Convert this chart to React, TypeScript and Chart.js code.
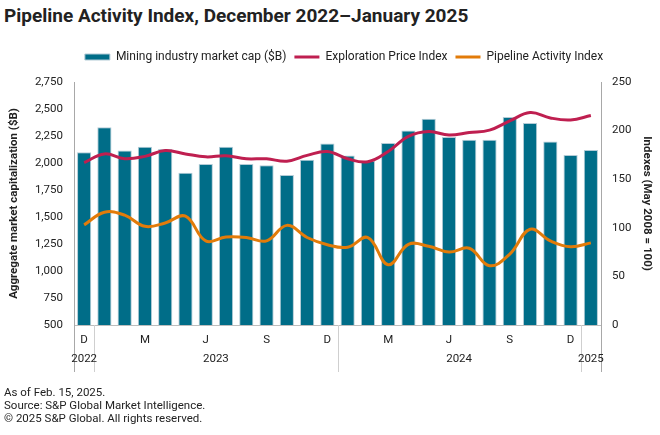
import React, { useEffect, useRef } from 'react';
import { Chart, registerables } from 'chart.js';
Chart.register(...registerables);

const categories = [
  '2022-12', '2023-01', '2023-02', '2023-03', '2023-04', '2023-05', '2023-06', '2023-07', '2023-08', '2023-09', '2023-10', '2023-11', '2023-12',
  '2024-01', '2024-02', '2024-03', '2024-04', '2024-05', '2024-06', '2024-07', '2024-08', '2024-09', '2024-10', '2024-11', '2024-12', '2025-01',
];
const monthTickLabels = ['D', '', '', 'M', '', '', 'J', '', '', 'S', '', '', 'D', '', '', 'M', '', '', 'J', '', '', 'S', '', '', 'D', ''];
const yearLabels = ['2022', '2023', '2024', '2025'];
const yearStartIdx = [0, 1, 13, 25];
const yearEndIdx = [0, 12, 24, 25];

const marketCap = [2100, 2330, 2115, 2150, 2130, 1910, 1990, 2150, 1990, 1980, 1890, 2030, 2180, 2070, 2020, 2185, 2300, 2410, 2240, 2215, 2215, 2425, 2370, 2200, 2075, 2120];
const explorationIndex = [167, 176, 171, 173.5, 179.5, 176, 173, 174, 171, 171, 168.5, 174.5, 178.5, 171, 168, 178.5, 194, 199, 195.5, 198, 200.5, 210, 218.5, 213, 211, 215.5];
const pipelineIndex = [103, 116, 113, 101.5, 105, 112, 86.5, 90.5, 90, 86.5, 102.5, 90, 82.5, 80, 90, 62, 83, 81, 75, 79, 61, 73, 98.5, 86.5, 80.5, 84.5];

const TEAL = '#006d88';
const RED = '#bf1f50';
const ORANGE = '#e27b09';
const TEXT = '#222222';
const FONT = 'Roboto, "Noto Sans", sans-serif';

const extrasPlugin = {
  id: 'extras',
  beforeLayout(chart: any) {
    const lg = chart.legend;
    if (lg && !lg.__wrapped) {
      const orig = lg.fit;
      lg.fit = function () {
        orig.call(this);
        this.height += 9;
      };
      lg.__wrapped = true;
    }
  },
  afterLayout(chart: any) {
    if (chart.legend) {
      chart.legend.left += 14;
      chart.legend.right += 14;
    }
  },
  afterDraw(chart: any) {
    const { ctx, chartArea, scales } = chart;
    const x = scales.x;
    const bottom = chartArea.bottom;
    const ext = bottom + 47;
    ctx.save();
    ctx.lineWidth = 1;
    ctx.strokeStyle = '#a8a8a8';
    ctx.beginPath();
    ctx.moveTo(Math.round(chartArea.left) + 0.5, bottom);
    ctx.lineTo(Math.round(chartArea.left) + 0.5, ext);
    ctx.moveTo(Math.round(chartArea.right) + 0.5, bottom);
    ctx.lineTo(Math.round(chartArea.right) + 0.5, ext);
    ctx.stroke();
    ctx.strokeStyle = '#cfcfcf';
    ctx.beginPath();
    for (let k = 0; k < yearEndIdx.length - 1; k++) {
      const i = yearEndIdx[k];
      const px = Math.round((x.getPixelForValue(i) + x.getPixelForValue(i + 1)) / 2) + 0.5;
      ctx.moveTo(px, bottom);
      ctx.lineTo(px, ext);
    }
    ctx.stroke();
    ctx.fillStyle = TEXT;
    ctx.font = `11.5px ${FONT}`;
    ctx.textAlign = 'center';
    ctx.textBaseline = 'middle';
    yearLabels.forEach((lab, k) => {
      const cx = (x.getPixelForValue(yearStartIdx[k]) + x.getPixelForValue(yearEndIdx[k])) / 2;
      ctx.fillText(lab, cx, bottom + 34);
    });
    ctx.restore();
  },
};

export default function App() {
  const canvasRef = useRef<HTMLCanvasElement | null>(null);

  useEffect(() => {
    document.body.style.margin = '0';
    const canvas = canvasRef.current;
    if (!canvas) return;
    const chart = new Chart(canvas, {
      type: 'bar',
      data: {
        labels: categories,
        datasets: [
          {
            type: 'bar',
            label: 'Mining industry market cap ($B)',
            data: marketCap,
            backgroundColor: TEAL,
            borderColor: '#b3cbd6',
            borderWidth: 1,
            barPercentage: 0.7,
            categoryPercentage: 1.0,
            yAxisID: 'y',
            order: 2,
            pointStyle: 'rect',
          } as any,
          {
            type: 'line',
            label: 'Exploration Price Index',
            data: explorationIndex,
            borderColor: RED,
            backgroundColor: RED,
            borderWidth: 3,
            pointRadius: 0,
            tension: 0.4,
            yAxisID: 'y1',
            order: 1,
            pointStyle: 'line',
          } as any,
          {
            type: 'line',
            label: 'Pipeline Activity Index',
            data: pipelineIndex,
            borderColor: ORANGE,
            backgroundColor: ORANGE,
            borderWidth: 3,
            pointRadius: 0,
            tension: 0.4,
            yAxisID: 'y1',
            order: 0,
            pointStyle: 'line',
          } as any,
        ],
      },
      options: {
        animation: false,
        responsive: true,
        maintainAspectRatio: false,
        layout: { padding: { top: 43, bottom: 65, left: 0, right: 0 } },
        plugins: {
          title: { display: false },
          tooltip: { enabled: false },
          legend: {
            display: true,
            position: 'top',
            labels: {
              usePointStyle: true,
              pointStyleWidth: 25,
              boxHeight: 6,
              padding: 8,
              color: TEXT,
              font: { family: FONT, size: 12 },
              sort: (a: any, b: any) => a.datasetIndex - b.datasetIndex,
            },
          },
        },
        scales: {
          x: {
            type: 'category',
            offset: true,
            grid: { display: false, drawTicks: false },
            border: { display: true, color: '#bdbdbd' },
            ticks: {
              autoSkip: false,
              maxRotation: 0,
              padding: 8,
              color: TEXT,
              font: { family: FONT, size: 11.5 },
              callback: (_v: any, i: number) => monthTickLabels[i],
            },
            afterFit: (s: any) => { s.height = 45; },
          },
          y: {
            position: 'left',
            min: 500,
            max: 2750,
            grid: { display: false, drawTicks: false },
            border: { display: true, color: '#a8a8a8' },
            ticks: {
              stepSize: 250,
              padding: 11,
              color: TEXT,
              font: { family: FONT, size: 11.5 },
              callback: (v: any) => Number(v).toLocaleString('en-US'),
            },
            title: {
              display: true,
              text: 'Aggregate market capitalization ($B)',
              color: TEXT,
              font: { family: FONT, size: 11.5, weight: 'bold' },
              padding: { top: 7, bottom: 4 },
            },
            afterFit: (s: any) => { s.width = 74; },
          },
          y1: {
            position: 'right',
            min: 0,
            max: 250,
            grid: { display: false, drawTicks: false },
            border: { display: true, color: '#a8a8a8' },
            ticks: {
              stepSize: 50,
              padding: 11,
              color: TEXT,
              font: { family: FONT, size: 11.5 },
            },
            title: {
              display: true,
              text: 'Indexes (May 2008 = 100)',
              color: TEXT,
              font: { family: FONT, size: 11.5, weight: 'bold' },
              padding: { top: 6, bottom: 4 },
            },
            afterFit: (s: any) => { s.width = 59; },
          },
        },
      } as any,
      plugins: [extrasPlugin],
    });
    return () => chart.destroy();
  }, []);

  return (
    <div style={{ position: 'absolute', left: 0, top: 0, width: 660, height: 435, background: '#fff', fontFamily: FONT, color: TEXT }}>
      <div style={{ position: 'absolute', left: 4, top: 4, fontSize: 19, fontWeight: 700, whiteSpace: 'nowrap' }}>
        Pipeline Activity Index, December 2022–January 2025
      </div>
      <div style={{ position: 'absolute', left: 0, top: 0, width: 660, height: 435 }}>
        <canvas ref={canvasRef} />
      </div>
      <div style={{ position: 'absolute', left: 4, top: 386, fontSize: 11.5, lineHeight: '13px' }}>
        <div>As of Feb. 15, 2025.</div>
        <div>Source: S&amp;P Global Market Intelligence.</div>
        <div>© 2025 S&amp;P Global. All rights reserved.</div>
      </div>
    </div>
  );
}
